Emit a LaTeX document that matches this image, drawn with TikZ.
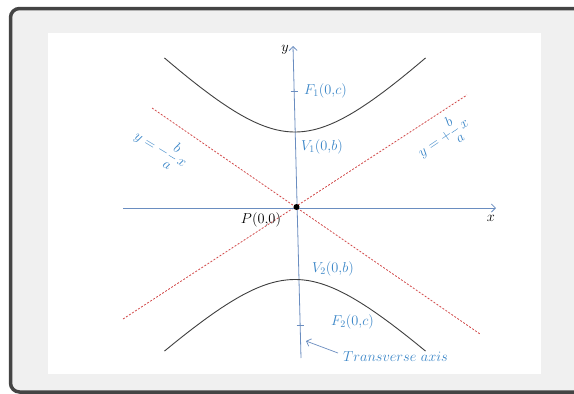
\documentclass[tikz,border=0pt]{standalone}
\usetikzlibrary{arrows.meta}
\definecolor{axisblue}{HTML}{6A8DC0}
\definecolor{lblblue}{HTML}{3A86C8}
\definecolor{asycol}{HTML}{D24B4B}
\definecolor{framecol}{HTML}{444444}
\definecolor{bgcol}{HTML}{F0F0F0}
\begin{document}
\begin{tikzpicture}[x=1pt,y=-1pt,
  axisline/.style={draw=axisblue, line width=0.8pt, -{Straight Barb[length=4pt,width=8pt]}},
  tickline/.style={draw=axisblue, line width=0.8pt},
  asymline/.style={draw=asycol, line width=0.8pt, dash pattern=on 2pt off 1.6pt},
  curveline/.style={draw=black!75, line width=0.9pt},
  lbl/.style={text=lblblue, font=\fontsize{14}{16}\selectfont, inner sep=0pt},
  blk/.style={text=black, font=\fontsize{14}{16}\selectfont, inner sep=0pt},
  eqlbl/.style={text=lblblue, font=\fontsize{13.5}{15}\selectfont, inner sep=0pt}]
\useasboundingbox (0,0) rectangle (574,394);
\clip (0,0) rectangle (574,394);
% frame
\filldraw[fill=bgcol, draw=framecol, line width=3.5pt, rounded corners=9pt] (10.5,8.5) rectangle (640,392);
\fill[white] (48,33) rectangle (541,374);
% coordinates
\coordinate (O) at (296.5,207);
\coordinate (ybot) at (301,358);
\coordinate (ytop) at (293,46);
\coordinate (xl) at (123,208);
\coordinate (xr) at (496,208);
\coordinate (a1) at (123,319);
\coordinate (a2) at (467,95);
\coordinate (b1) at (152,108);
\coordinate (b2) at (480,334);
\coordinate (t1a) at (290.5,91);
\coordinate (t1b) at (297.5,91);
\coordinate (t2a) at (296.5,325);
\coordinate (t2b) at (303.5,325);
% asymptotes
\draw[asymline] (a1) -- (a2);
\draw[asymline] (b1) -- (b2);
% axes
\draw[axisline] (xl) -- (xr);
\draw[axisline] (ybot) -- (ytop);
\draw[tickline] (t1a) -- (t1b);
\draw[tickline] (t2a) -- (t2b);
% hyperbola
\draw[curveline] plot[domain=-1.31:1.31, samples=60, smooth, variable=\t] ({295+76*sinh(\t)},{207-75*cosh(\t)});
\draw[curveline] plot[domain=-1.31:1.31, samples=60, smooth, variable=\t] ({295+76*sinh(\t)},{207+72.5*cosh(\t)});
% origin
\fill (O) circle (3);
% labels
\node[blk] (ylab) at (285,50) {$y$};
\node[blk] (xlab) at (491,218) {$x$};
\node[blk] (P) at (261,220) {$P(0{,}0)$};
\node[lbl, anchor=west] (F1) at (304,91) {$F_1(0{,}c)$};
\node[lbl, anchor=west] (V1) at (301,147) {$V_1(0{,}b)$};
\node[lbl, anchor=west] (V2) at (312,269) {$V_2(0{,}b)$};
\node[lbl, anchor=west] (F2) at (331,322) {$F_2(0{,}c)$};
\node[lbl, anchor=west] (TA) at (343,357) {$Transverse\ axis$};
\coordinate (tastart) at (338,353);
\coordinate (taend) at (306,341);
\draw[draw=axisblue, line width=0.7pt, -{Straight Barb[length=4pt,width=8pt]}] (tastart) -- (taend);
\node[eqlbl, rotate=-31] (eqL) at (161,149) {$y=-{\displaystyle\frac{b}{a}}\,x$};
\node[eqlbl, rotate=34] (eqR) at (443,137) {$y=+{\displaystyle\frac{b}{a}}\,x$};
\end{tikzpicture}
\end{document}
